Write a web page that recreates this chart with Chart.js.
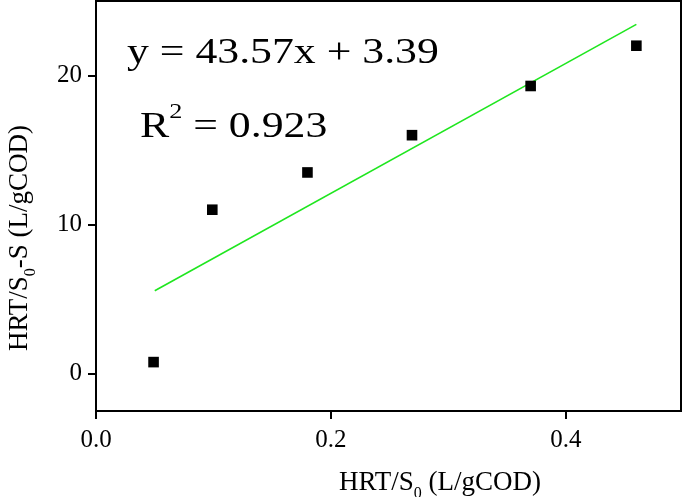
<!DOCTYPE html>
<html><head><meta charset="utf-8">
<script src="https://cdn.jsdelivr.net/npm/chart.js@4.4.0/dist/chart.umd.min.js"></script>
<style>html,body{margin:0;padding:0;background:#fff;} #wrap{width:685px;height:497px;position:relative;}</style>
</head><body><div id="wrap"><canvas id="c" width="685" height="497"></canvas></div>
<script>
// ---- data ----
const xValues = [0.049, 0.099, 0.18, 0.269, 0.37, 0.46];
const yValues = [0.78, 11.0, 13.5, 16.0, 19.3, 22.0];
const fitX = [0.05, 0.46];
const fitY = [5.57, 23.43];
const xTicks = [0, 0.2, 0.4];
const yTicks = [0, 10, 20];
const equationText = 'y = 43.57x + 3.39';
const r2Label = 'R';
const r2Sup = '2';
const r2Value = ' = 0.923';
const xTitleParts = [['HRT/S', 'n'], ['0', 'sub'], [' (L/gCOD)', 'n']];
const yTitleParts = [['HRT/S', 'n'], ['0', 'sub'], ['-S (L/gCOD)', 'n']];

const FONT = '"Liberation Serif", "Times New Roman", serif';

function drawParts(ctx, parts, size, cx, baseline) {
  const subSize = Math.round(size * 0.6);
  let total = 0;
  const widths = parts.map(([t, k]) => {
    ctx.font = (k === 'n' ? size : subSize) + 'px ' + FONT;
    const w = ctx.measureText(t).width; total += w; return w;
  });
  let x = cx - total / 2;
  parts.forEach(([t, k], i) => {
    ctx.font = (k === 'n' ? size : subSize) + 'px ' + FONT;
    const dy = k === 'sub' ? size * 0.3 : (k === 'sup' ? -size * 0.55 : 0);
    ctx.fillText(t, x, baseline + dy);
    x += widths[i];
  });
}

const decor = {
  id: 'decor',
  afterDraw(chart) {
    const ctx = chart.ctx, a = chart.chartArea;
    ctx.save();
    ctx.strokeStyle = '#000'; ctx.lineWidth = 2;
    ctx.strokeRect(a.left, a.top, a.right - a.left, a.bottom - a.top);
    ctx.fillStyle = '#000';
    ctx.textAlign = 'left'; ctx.textBaseline = 'alphabetic';
    // x title
    drawParts(ctx, xTitleParts, 27, 440, 490);
    // y title
    ctx.save();
    ctx.translate(27, 238);
    ctx.rotate(-Math.PI / 2);
    drawParts(ctx, yTitleParts, 27, 0, 0);
    ctx.restore();
    // equation
    ctx.save();
    ctx.translate(127, 63);
    ctx.scale(1.25, 1);
    ctx.font = '35px ' + FONT;
    ctx.fillText(equationText, 0, 0);
    ctx.restore();
    // R^2
    ctx.save();
    ctx.translate(140, 137);
    ctx.scale(1.25, 1);
    ctx.font = '35px ' + FONT;
    let w = ctx.measureText(r2Label).width;
    ctx.fillText(r2Label, 0, 0);
    ctx.font = '21px ' + FONT;
    ctx.fillText(r2Sup, w, -19);
    w += ctx.measureText(r2Sup).width;
    ctx.font = '35px ' + FONT;
    ctx.fillText(r2Value, w, 0);
    ctx.restore();
    ctx.restore();
  }
};

new Chart(document.getElementById('c'), {
  type: 'scatter',
  data: {
    datasets: [
      {
        type: 'line',
        data: fitX.map((x, i) => ({ x, y: fitY[i] })),
        borderColor: '#1fe61f',
        borderWidth: 1.6,
        pointRadius: 0,
        fill: false,
        order: 2
      },
      {
        data: xValues.map((x, i) => ({ x, y: yValues[i] })),
        pointStyle: 'rect',
        pointRadius: 7.5,
        backgroundColor: '#000',
        borderColor: '#000',
        borderWidth: 0,
        order: 1
      }
    ]
  },
  options: {
    responsive: false,
    animation: false,
    devicePixelRatio: 1,
    layout: { autoPadding: false, padding: { top: 1, right: 4, left: 0, bottom: 0 } },
    plugins: { legend: { display: false }, tooltip: { enabled: false } },
    scales: {
      x: {
        type: 'linear', min: 0, max: 0.498,
        afterBuildTicks: s => { s.ticks = xTicks.map(v => ({ value: v })); },
        afterFit: s => { s.height = 86; s.paddingLeft = 0; s.paddingRight = 0; },
        grid: { display: true, drawOnChartArea: false, drawTicks: true, tickLength: 8, color: '#000', lineWidth: 2 },
        border: { display: false },
        ticks: { color: '#000', padding: 6, font: { family: FONT, size: 25 }, callback: v => Number(v).toFixed(1), maxRotation: 0 }
      },
      y: {
        type: 'linear', min: -2.5, max: 25,
        afterBuildTicks: s => { s.ticks = yTicks.map(v => ({ value: v })); },
        afterFit: s => { s.width = 96; s.paddingTop = 0; s.paddingBottom = 0; },
        grid: { display: true, drawOnChartArea: false, drawTicks: true, tickLength: 8, color: '#000', lineWidth: 2 },
        border: { display: false },
        ticks: { color: '#000', padding: 6, font: { family: FONT, size: 25 }, callback: v => String(v) }
      }
    }
  },
  plugins: [decor]
});
</script>
</body></html>
